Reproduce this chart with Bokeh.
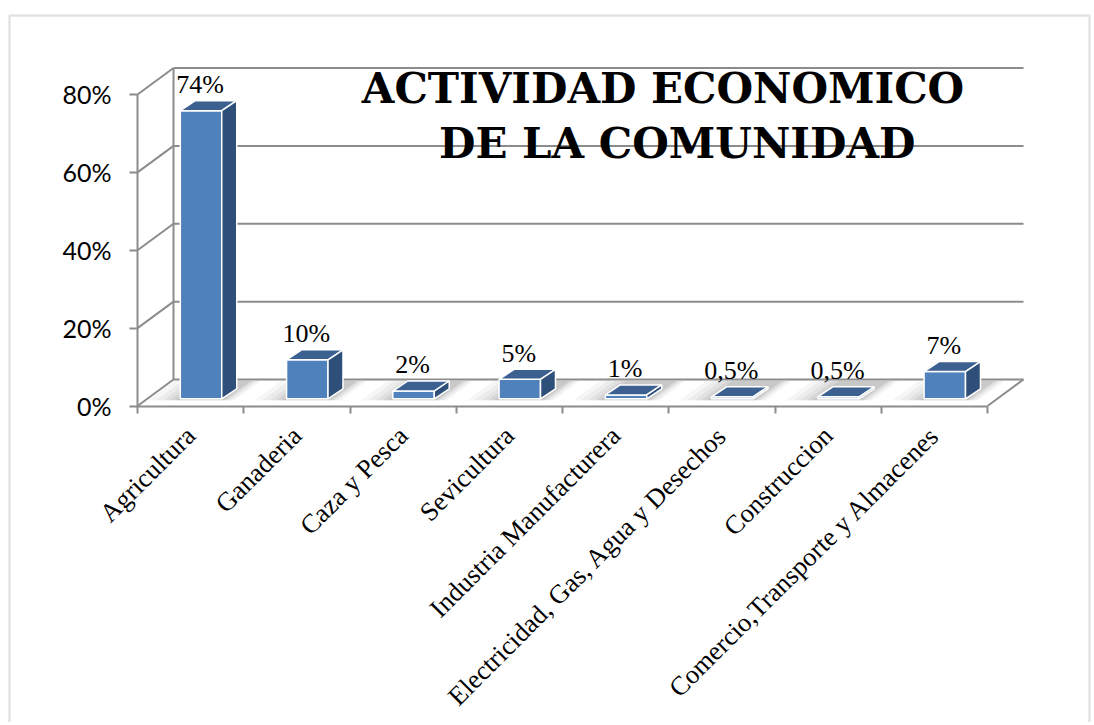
import math
import numpy as np
from bokeh.plotting import figure
from bokeh.models import Range1d, FixedTicker, NumeralTickFormatter, BoxAnnotation
from bokeh.core.properties import value
from bokeh.embed import file_html
from bokeh.resources import INLINE

# ---------------- data ----------------
categories = [
    "Agricultura",
    "Ganaderia",
    "Caza y Pesca",
    "Sevicultura",
    "Industria Manufacturera",
    "Electricidad, Gas, Agua y Desechos",
    "Construccion",
    "Comercio,Transporte y Almacenes",
]
shares = [0.74, 0.10, 0.02, 0.05, 0.01, 0.005, 0.005, 0.07]
share_labels = ["74%", "10%", "2%", "5%", "1%", "0,5%", "0,5%", "7%"]
y_ticks = [0.0, 0.2, 0.4, 0.6, 0.8]
title_lines = ["ACTIVIDAD ECONOMICO", "DE LA COMUNIDAD"]

# ---------------- layout / styling ----------------
W, H = 1092, 722
AX_X0_PX, AX_Y0_PX = 137.0, 405.5     # where the front axes meet (pixels)
PX_PER_X, PX_PER_Y = 106.25, 389.4     # pixels per category / per 100 %

DEPTH_X, DEPTH_Y = 0.339, 0.068      # floor / wall depth offset
BAR_W = 0.39
BAR_SX, BAR_SY = 0.098, 0.0185       # bar front face offset from front edge
BAR_DX, BAR_DY = 0.141, 0.0257       # bar depth
LABEL_GAP = 0.0411                   # gap between bar top and its label centre
GRID = "#8c8c8c"
FRONT, TOP, SIDE = "#4F81BD", "#3C6191", "#2E4F7A"

n = len(categories)
xc = np.arange(n, dtype=float)
vals = np.array(shares)
ytk = np.array(y_ticks)
x0_axis, x1_axis = -0.5, n - 0.5


def px_to_x(px):
    return x0_axis + (px - AX_X0_PX) / PX_PER_X


def px_to_y(py):
    return (AX_Y0_PX - py) / PX_PER_Y


p = figure(width=W, height=H,
           x_range=Range1d(px_to_x(0), px_to_x(W)),
           y_range=Range1d(px_to_y(H), px_to_y(0)),
           output_backend="svg", toolbar_location=None,
           min_border=0,
           background_fill_color="white", border_fill_color="white",
           outline_line_color=None)
p.xgrid.visible = False
p.ygrid.visible = False

# chart border
p.add_layout(BoxAnnotation(left=9, right=1089, top=15, bottom=H + 40,
                           left_units="canvas", right_units="canvas",
                           top_units="canvas", bottom_units="canvas",
                           fill_color=None, line_color="#a6a6a6", line_width=2.5,
                           level="underlay"))

# bar geometry
left = xc - BAR_W / 2 + BAR_SX
right = left + BAR_W
base = BAR_SY
top = base + vals

# shadows on the floor
for spread, alpha in [(0.30, 0.07), (0.23, 0.08), (0.16, 0.10), (0.10, 0.12), (0.05, 0.14)]:
    yf = base - 0.004
    yb = DEPTH_Y - 0.003
    s = (yb - yf) / DEPTH_Y * DEPTH_X
    xl = left - spread
    xr = right + spread * 0.4
    xs = [[a, b, b + s, a + s] for a, b in zip(xl, xr)]
    ys = [[yf, yf, yb, yb] for _ in range(n)]
    p.patches(xs, ys, fill_color="#7f7f7f", fill_alpha=alpha, line_color=None)

# back wall grid lines
p.segment(x0=np.full(len(ytk), x0_axis + DEPTH_X), y0=ytk + DEPTH_Y,
          x1=np.full(len(ytk), x1_axis + DEPTH_X), y1=ytk + DEPTH_Y,
          line_color=GRID, line_width=2)
# side wall lines
p.segment(x0=np.full(len(ytk), x0_axis), y0=ytk,
          x1=np.full(len(ytk), x0_axis + DEPTH_X), y1=ytk + DEPTH_Y,
          line_color=GRID, line_width=2)
# back left vertical edge and floor right edge
p.segment(x0=[x0_axis + DEPTH_X, x1_axis], y0=[DEPTH_Y, 0.0],
          x1=[x0_axis + DEPTH_X, x1_axis + DEPTH_X], y1=[ytk[-1] + DEPTH_Y, DEPTH_Y],
          line_color=GRID, line_width=2)

# bars: front, top, side
p.quad(left=left, right=right, bottom=np.full(n, base), top=top,
       fill_color=FRONT, line_color="white", line_width=1.5)
top_xs = [[l, r, r + BAR_DX, l + BAR_DX] for l, r in zip(left, right)]
top_ys = [[t, t, t + BAR_DY, t + BAR_DY] for t in top]
p.patches(top_xs, top_ys, fill_color=TOP, line_color="white", line_width=1.5)
side_xs = [[r, r + BAR_DX, r + BAR_DX, r] for r in right]
side_ys = [[base, base + BAR_DY, t + BAR_DY, t] for t in top]
p.patches(side_xs, side_ys, fill_color=SIDE, line_color="white", line_width=1.5)

# data labels
p.text(x=xc + BAR_SX - 0.01, y=top + BAR_DY + LABEL_GAP, text=share_labels,
       text_align="center", text_baseline="middle",
       text_font=value("Liberation Serif"), text_font_size="26px", text_color="black")

# y axis (drawn at the front-left edge)
ya = p.yaxis[0]
ya.fixed_location = x0_axis
ya.ticker = FixedTicker(ticks=y_ticks, minor_ticks=[])
ya.formatter = NumeralTickFormatter(format="0%")
ya.bounds = (0, y_ticks[-1])
ya.axis_line_color = GRID
ya.axis_line_width = 2
ya.major_tick_line_color = GRID
ya.major_tick_line_width = 2
ya.major_tick_out = 8
ya.major_tick_in = 0
ya.minor_tick_line_color = None
ya.major_label_standoff = 18
ya.major_label_text_font = "Lato"
ya.major_label_text_font_size = "25px"
ya.major_label_text_color = "black"

# x axis (front edge of floor)
xa = p.xaxis[0]
xa.fixed_location = 0.0
xa.ticker = FixedTicker(ticks=list(xc), minor_ticks=list(np.arange(n + 1) - 0.5))
xa.major_label_overrides = {int(i): c for i, c in enumerate(categories)}
xa.bounds = (x0_axis, x1_axis)
xa.axis_line_color = GRID
xa.axis_line_width = 2
xa.major_tick_line_color = None
xa.major_tick_out = 0
xa.major_tick_in = 0
xa.minor_tick_line_color = GRID
xa.minor_tick_line_width = 2
xa.minor_tick_out = 7
xa.minor_tick_in = 0
xa.major_label_orientation = math.pi / 4
xa.major_label_standoff = 18
xa.major_label_text_font = "Liberation Serif"
xa.major_label_text_font_size = "26.5px"
xa.major_label_text_color = "black"

# title (two lines, bold serif)
p.text(x=[px_to_x(662.5), px_to_x(676.7)], y=[px_to_y(87.5), px_to_y(142.5)],
       text=title_lines, text_align="center", text_baseline="middle",
       text_font=value("DejaVu Serif"), text_font_style="bold",
       text_font_size="42px", text_color="black")

open("out.html", "w").write(file_html(p, INLINE))
